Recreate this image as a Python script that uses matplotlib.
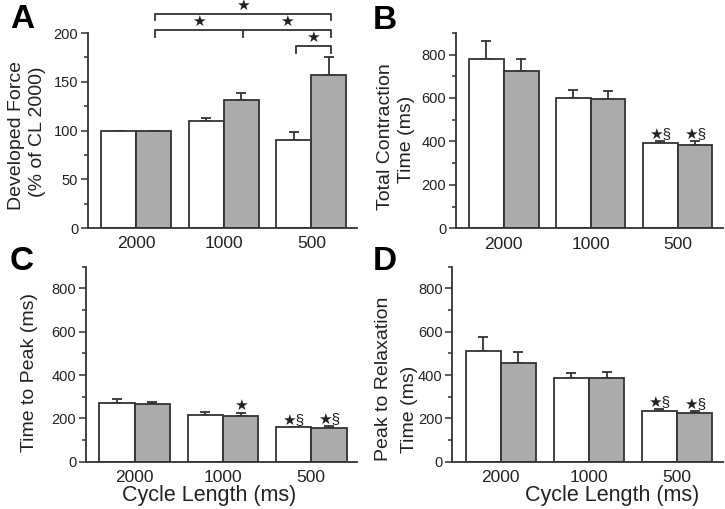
import numpy as np
import matplotlib
matplotlib.use('Agg')
import matplotlib.pyplot as plt
from matplotlib.ticker import MultipleLocator

plt.rcParams['font.family'] = ['Liberation Sans', 'DejaVu Sans']

# ---- data ----
cycle_labels = ['2000', '1000', '500']

force_ctrl = [100, 109.5, 90.5]
force_ctrl_err = [0, 3.5, 8]
force_drug = [100, 131, 157]
force_drug_err = [0, 8, 18.5]

tct_ctrl = [780, 602, 394]
tct_ctrl_err = [81, 34, 9]
tct_drug = [723, 596, 385]
tct_drug_err = [55, 37, 16]

ttp_ctrl = [269, 215, 158]
ttp_ctrl_err = [20, 13, 4]
ttp_drug = [266, 212, 157]
ttp_drug_err = [11, 11, 9]

prt_ctrl = [512, 386, 235]
prt_ctrl_err = [63, 25, 7]
prt_drug = [458, 386, 226]
prt_drug_err = [48, 29, 9]

# significance marks: (group index, series 0=white/1=gray, text)
marks_B = [(2, 0, '★§'), (2, 1, '★§')]
marks_C = [(1, 1, '★'), (2, 0, '★§'), (2, 1, '★§')]
marks_D = [(2, 0, '★§'), (2, 1, '★§')]

# brackets in panel A: (start group, start series, end group, end series, level)
brackets_A = [(0, 1, 2, 1, 220), (0, 1, 2, 1, 203), (2, 0, 2, 1, 187)]

EDGE = '#333333'
GRAY = '#ababab'
TXT = '#222222'
W = 0.4
FW, FH = 725.0, 509.0

fig = plt.figure(figsize=(7.25, 5.09), dpi=100)
axA = fig.add_axes([0.1214, 0.552, 0.371, 0.383])
axB = fig.add_axes([0.629, 0.5515, 0.368, 0.384])
axC = fig.add_axes([0.1186, 0.0929, 0.374, 0.383])
axD = fig.add_axes([0.624, 0.0929, 0.373, 0.383])


def bar_x(g, s):
    return g + (W / 2 if s else -W / 2)


def draw_panel(ax, ctrl, ctrl_err, drug, drug_err, ymax, major, minor):
    x = np.arange(len(cycle_labels))
    for vals, errs, col, off in [(ctrl, ctrl_err, 'white', -W / 2), (drug, drug_err, GRAY, W / 2)]:
        ax.bar(x + off, vals, W, color=col, edgecolor=EDGE, linewidth=1.3, zorder=2)
        ax.errorbar(x + off, vals, yerr=[np.zeros(len(errs)), errs], fmt='none',
                    ecolor=EDGE, elinewidth=1.3, capsize=3.6, capthick=1.3, zorder=1)
    ax.set_xlim(-0.55, 2.52)
    ax.set_ylim(0, ymax)
    ax.yaxis.set_major_locator(MultipleLocator(major))
    ax.yaxis.set_minor_locator(MultipleLocator(minor))
    ax.set_xticks(x)
    ax.set_xticklabels(cycle_labels, fontsize=12.5, color=TXT)
    ax.tick_params(axis='x', length=0, pad=6)
    ax.tick_params(axis='y', which='major', length=5, width=1.1, labelsize=10.5,
                   color=EDGE, labelcolor=TXT, pad=2)
    ax.tick_params(axis='y', which='minor', length=3, width=1.1, color=EDGE)
    for sp in ['top', 'right']:
        ax.spines[sp].set_visible(False)
    for sp in ['left', 'bottom']:
        ax.spines[sp].set_color(EDGE)
        ax.spines[sp].set_linewidth(1.3)


def add_marks(ax, marks, ctrl, ctrl_err, drug, drug_err, gap):
    for g, s, txt in marks:
        top = (drug[g] + drug_err[g]) if s else (ctrl[g] + ctrl_err[g])
        ax.text(bar_x(g, s), top + gap, txt, ha='center', va='bottom',
                fontsize=11, color=TXT)


def ftext(px, py, s, **kw):
    # place text by pixel position (from top-left) in figure coords
    fig.text(px / FW, 1 - py / FH, s, ha='center', va='center', color=TXT, **kw)


draw_panel(axA, force_ctrl, force_ctrl_err, force_drug, force_drug_err, 200, 50, 25)
draw_panel(axB, tct_ctrl, tct_ctrl_err, tct_drug, tct_drug_err, 900, 200, 100)
draw_panel(axC, ttp_ctrl, ttp_ctrl_err, ttp_drug, ttp_drug_err, 900, 200, 100)
draw_panel(axD, prt_ctrl, prt_ctrl_err, prt_drug, prt_drug_err, 900, 200, 100)

add_marks(axB, marks_B, tct_ctrl, tct_ctrl_err, tct_drug, tct_drug_err, 0)
add_marks(axC, marks_C, ttp_ctrl, ttp_ctrl_err, ttp_drug, ttp_drug_err, 0)
add_marks(axD, marks_D, prt_ctrl, prt_ctrl_err, prt_drug, prt_drug_err, 0)

# brackets for panel A
tick_h = 7
for i, (g0, s0, g1, s1, lvl) in enumerate(brackets_A):
    x0 = bar_x(g0, s0) + 0.02
    x1 = bar_x(g1, s1) + 0.02
    axA.plot([x0, x0, x1, x1], [lvl - tick_h, lvl, lvl, lvl - tick_h],
             color=EDGE, lw=1.3, clip_on=False)
    star_xs = [(x0 + x1) / 2]
    if i == 1:
        xm = bar_x(1, 1) + 0.02
        axA.plot([xm, xm], [lvl, lvl - tick_h], color=EDGE, lw=1.3, clip_on=False)
        star_xs = [(x0 + xm) / 2, (xm + x1) / 2]
    for sx in star_xs:
        axA.text(sx, lvl + 1, '★', ha='center', va='bottom', fontsize=11,
                 color=TXT, clip_on=False)

# y labels (each line placed where it sits in the original)
ftext(17, 135, 'Developed Force', fontsize=14, rotation=90)
ftext(37.5, 132, '(% of CL 2000)', fontsize=14, rotation=90)
ftext(386, 137, 'Total Contraction', fontsize=14, rotation=90)
ftext(406, 139, 'Time (ms)', fontsize=14, rotation=90)
ftext(30, 373, 'Time to Peak (ms)', fontsize=14, rotation=90)
ftext(384, 379, 'Peak to Relaxation', fontsize=14, rotation=90)
ftext(410, 409, 'Time (ms)', fontsize=14, rotation=90)

# x labels
ftext(209.5, 496, 'Cycle Length (ms)', fontsize=15.5)
ftext(612, 496, 'Cycle Length (ms)', fontsize=15.5)

# panel letters
for lx, ly, letter in [(10, 4, 'A'), (373, 5, 'B'), (10, 246, 'C'), (373, 246, 'D')]:
    fig.text(lx / FW, 1 - ly / FH, letter, ha='left', va='top', fontsize=24,
             fontweight='bold', color='black')

fig.savefig('out.png', dpi=100)
